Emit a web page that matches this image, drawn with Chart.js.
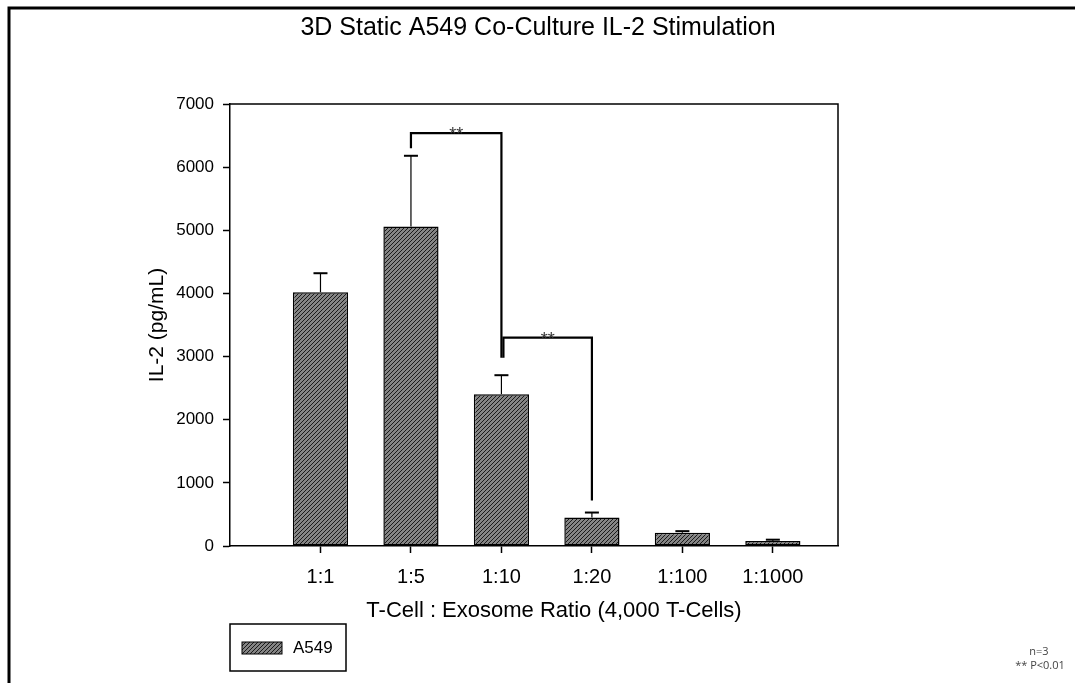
<!DOCTYPE html>
<html>
<head>
<meta charset="utf-8">
<title>3D Static A549 Co-Culture IL-2 Stimulation</title>
<script src="https://cdn.jsdelivr.net/npm/chart.js@4.4.0/dist/chart.umd.min.js"></script>
<style>
  html, body { margin: 0; padding: 0; background: #fff; }
  #wrap { position: relative; width: 1075px; height: 683px; }
</style>
</head>
<body>
<div id="wrap"><canvas id="chart"></canvas></div>
<script>
const categories = ['1:1', '1:5', '1:10', '1:20', '1:100', '1:1000'];
const il2Mean = [4020, 5060, 2405, 450, 210, 80];
const il2Err = [300, 1120, 300, 80, 25, 20];

// significance brackets (category index from -> to, height of bar, leg ends)
const bracketFrom = [1, 2];
const bracketTo = [2, 3];
const bracketTop = [6540, 3300];
const bracketFromEnd = [6300, 2980];
const bracketToEnd = [2980, 720];
const bracketLabel = ['**', '**'];

const FONT = "'Liberation Sans', Arial, sans-serif";

function hatchPattern() {
  const c = document.createElement('canvas');
  c.width = 4;
  c.height = 4;
  const g = c.getContext('2d');
  g.fillStyle = '#858585';
  g.fillRect(0, 0, 4, 4);
  g.strokeStyle = '#1a1a1a';
  g.lineWidth = 1;
  g.beginPath();
  g.moveTo(-1, 5); g.lineTo(5, -1);
  g.moveTo(-1, 1); g.lineTo(1, -1);
  g.moveTo(3, 5); g.lineTo(5, 3);
  g.stroke();
  return g.createPattern(c, 'repeat');
}

const hatch = hatchPattern();

const extras = {
  id: 'extras',
  beforeDraw(chart) {
    const ctx = chart.ctx;
    ctx.save();
    ctx.fillStyle = '#fff';
    ctx.fillRect(0, 0, chart.width, chart.height);
    ctx.strokeStyle = '#000';
    ctx.lineWidth = 3;
    ctx.beginPath();
    ctx.moveTo(9, chart.height);
    ctx.lineTo(9, 8);
    ctx.lineTo(chart.width, 8);
    ctx.stroke();

    ctx.fillStyle = '#000';
    ctx.font = '25px ' + FONT;
    ctx.textAlign = 'center';
    ctx.textBaseline = 'middle';
    ctx.fillText('3D Static A549 Co-Culture IL-2 Stimulation', 538, 28);
    ctx.restore();
  },
  afterDatasetsDraw(chart) {
    const ctx = chart.ctx;
    const x = chart.scales.x;
    const y = chart.scales.y;
    const area = chart.chartArea;
    ctx.save();

    // box top and right
    ctx.strokeStyle = '#000';
    ctx.lineWidth = 1.5;
    ctx.beginPath();
    ctx.moveTo(area.left, area.top);
    ctx.lineTo(area.right, area.top);
    ctx.lineTo(area.right, area.bottom);
    ctx.stroke();

    // error bars (upper only)
    il2Mean.forEach((m, i) => {
      const px = x.getPixelForValue(i + 1);
      const y0 = y.getPixelForValue(m);
      const y1 = y.getPixelForValue(m + il2Err[i]);
      ctx.lineWidth = 1.2;
      ctx.beginPath();
      ctx.moveTo(px, y0);
      ctx.lineTo(px, y1);
      ctx.stroke();
      ctx.lineWidth = 2;
      ctx.beginPath();
      ctx.moveTo(px - 7, y1);
      ctx.lineTo(px + 7, y1);
      ctx.stroke();
    });

    // brackets
    bracketFrom.forEach((f, i) => {
      const xa = x.getPixelForValue(f + 1) + (i > 0 ? 2 : 0);
      const xb = x.getPixelForValue(bracketTo[i] + 1);
      const yt = y.getPixelForValue(bracketTop[i]);
      ctx.lineWidth = 2.2;
      ctx.beginPath();
      ctx.moveTo(xa, y.getPixelForValue(bracketFromEnd[i]));
      ctx.lineTo(xa, yt);
      ctx.lineTo(xb, yt);
      ctx.lineTo(xb, y.getPixelForValue(bracketToEnd[i]));
      ctx.stroke();
      ctx.fillStyle = '#333';
      ctx.font = '18px ' + FONT;
      ctx.textAlign = 'center';
      ctx.textBaseline = 'alphabetic';
      ctx.fillText(bracketLabel[i], (xa + xb) / 2, yt + 7);
    });

    // axis titles
    ctx.fillStyle = '#000';
    ctx.font = '22px ' + FONT;
    ctx.textAlign = 'center';
    ctx.textBaseline = 'middle';
    ctx.fillText('T-Cell : Exosome Ratio (4,000 T-Cells)', 554, 611);
    ctx.font = '21px ' + FONT;
    ctx.save();
    ctx.translate(157, (area.top + area.bottom) / 2);
    ctx.rotate(-Math.PI / 2);
    ctx.fillText('IL-2 (pg/mL)', 0, 0);
    ctx.restore();

    // legend box
    ctx.lineWidth = 1.5;
    ctx.strokeStyle = '#000';
    ctx.strokeRect(230, 624, 116, 47);
    ctx.fillStyle = hatch;
    ctx.fillRect(242, 642, 40, 12);
    ctx.lineWidth = 1;
    ctx.strokeRect(242, 642, 40, 12);
    ctx.fillStyle = '#000';
    ctx.font = '17px ' + FONT;
    ctx.textAlign = 'left';
    ctx.fillText('A549', 293, 648);

    // notes
    ctx.fillStyle = '#444';
    ctx.font = "11px 'Open Sans', sans-serif";
    ctx.textAlign = 'center';
    ctx.fillText('n=3', 1039, 652);
    ctx.fillText('** P<0.01', 1040, 666);
    ctx.restore();
  }
};

const canvas = document.getElementById('chart');
canvas.width = 1075;
canvas.height = 683;

new Chart(canvas, {
  type: 'bar',
  data: {
    datasets: [{
      label: 'A549',
      data: il2Mean.map((v, i) => ({ x: i + 1, y: v })),
      backgroundColor: hatch,
      borderColor: '#000',
      borderWidth: 1.5,
      borderSkipped: false,
      categoryPercentage: 1,
      barPercentage: 0.61
    }]
  },
  options: {
    responsive: false,
    animation: false,
    layout: { padding: { left: 0, top: 104, right: 237, bottom: 0 } },
    scales: {
      x: {
        type: 'linear',
        min: 0,
        max: 6.72,
        offset: false,
        afterFit: s => { s.height = 137; },
        afterBuildTicks: s => { s.ticks = categories.map((c, i) => ({ value: i + 1 })); },
        ticks: {
          autoSkip: false,
          maxRotation: 0,
          padding: 12,
          color: '#000',
          font: { family: FONT, size: 20 },
          callback: v => categories[v - 1]
        },
        grid: { offset: false, drawOnChartArea: false, tickLength: 7, tickWidth: 1.5, color: '#000' },
        border: { display: true, color: '#000', width: 1.5 }
      },
      y: {
        min: 0,
        max: 7000,
        afterFit: s => { s.width = 230; },
        ticks: {
          stepSize: 1000,
          padding: 9,
          color: '#000',
          font: { family: FONT, size: 17 },
          callback: v => String(v)
        },
        grid: { drawOnChartArea: false, tickLength: 7, tickWidth: 1.5, color: '#000' },
        border: { display: true, color: '#000', width: 1.5 }
      }
    },
    plugins: {
      legend: { display: false },
      tooltip: { enabled: false },
      title: { display: false }
    }
  },
  plugins: [extras]
});
</script>
</body>
</html>
